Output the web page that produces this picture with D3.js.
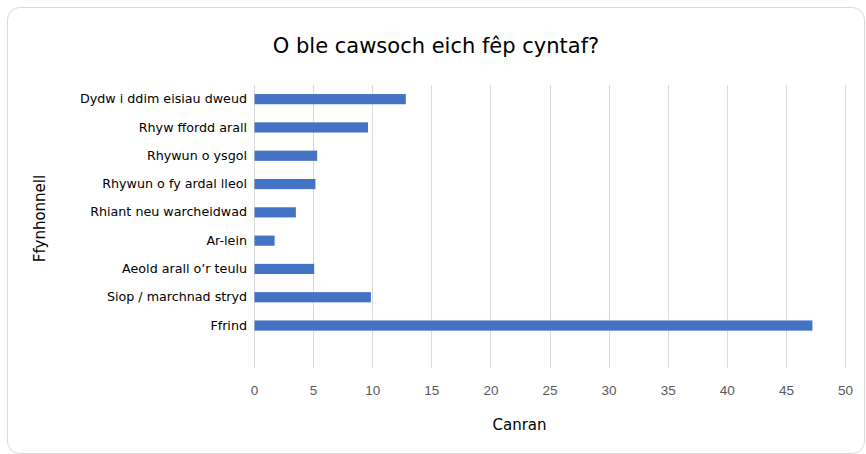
<!DOCTYPE html>
<html><head><meta charset="utf-8">
<script src="https://cdn.jsdelivr.net/npm/d3@7"></script>
<style>
html,body{margin:0;padding:0;background:#fff;}
svg{display:block;font-family:Tahoma,"DejaVu Sans",Verdana,sans-serif;}
</style></head>
<body>
<svg id="chart" width="866" height="454"></svg>
<script>
const categories = ["Dydw i ddim eisiau dweud","Rhyw ffordd arall","Rhywun o ysgol","Rhywun o fy ardal lleol","Rhiant neu warcheidwad","Ar-lein","Aeold arall o\u2019r teulu","Siop / marchnad stryd","Ffrind"];
const values = [12.8, 9.6, 5.3, 5.15, 3.5, 1.7, 5.05, 9.85, 47.2];
const xTicks = [0,5,10,15,20,25,30,35,40,45,50];
const title = "O ble cawsoch eich fêp cyntaf?";
const xTitle = "Canran";
const yTitle = "Ffynhonnell";

const svg = d3.select("#chart");
const W = 866, H = 454;
svg.append("rect").attr("x",7.5).attr("y",7.5).attr("width",W-9).attr("height",H-8)
  .attr("rx",12).attr("fill","#fff").attr("stroke","#d9d9d9").attr("stroke-width",1);

const m = {left:254, right:21, top:85, bottom:86};
const x = d3.scaleLinear().domain([0,50]).range([m.left, W-m.right]);
// one trailing empty slot as in the original chart
const y = d3.scaleBand().domain([...categories, ""]).range([m.top, H-m.bottom]).paddingInner(0.64).paddingOuter(0.32);

// gridlines
svg.append("g").selectAll("line").data(xTicks).join("line")
  .attr("x1",d=>Math.round(x(d))+0.5).attr("x2",d=>Math.round(x(d))+0.5)
  .attr("y1",m.top).attr("y2",H-m.bottom)
  .attr("stroke","#d9d9d9").attr("stroke-width",1);

// bars
svg.append("g").selectAll("rect").data(categories).join("rect")
  .attr("x",x(0)+0.5)
  .attr("y",(d)=>y(d))
  .attr("width",(d,i)=>x(values[i])-x(0))
  .attr("height",y.bandwidth())
  .attr("fill","#4472c4");

// y axis
const yAxis = d3.axisLeft(y).tickSize(0).tickPadding(7);
const gy = svg.append("g").attr("transform",`translate(${m.left},0)`).call(yAxis);
gy.select(".domain").remove();
gy.selectAll("text").attr("font-size","12.7px").attr("fill","#000").attr("font-family",'Tahoma,"DejaVu Sans",sans-serif');

// x axis
const xAxis = d3.axisBottom(x).tickValues(xTicks).tickSize(0).tickPadding(15);
const gx = svg.append("g").attr("transform",`translate(0,${H-m.bottom+2})`).call(xAxis);
gx.select(".domain").remove();
gx.selectAll("text").attr("font-size","13.5px").attr("fill","#595959");

svg.append("text").attr("x",436).attr("y",53).attr("text-anchor","middle")
  .attr("font-size","21px").attr("fill","#000").text(title);
svg.append("text").attr("x",(m.left+W-m.right)/2 - 30).attr("y",430).attr("text-anchor","middle")
  .attr("font-size","15px").attr("fill","#000").text(xTitle);
svg.append("text").attr("transform",`translate(45,${(m.top+H-m.bottom)/2 - 8}) rotate(-90)`)
  .attr("text-anchor","middle").attr("font-size","15px").attr("fill","#000").text(yTitle);
</script>
</body></html>
